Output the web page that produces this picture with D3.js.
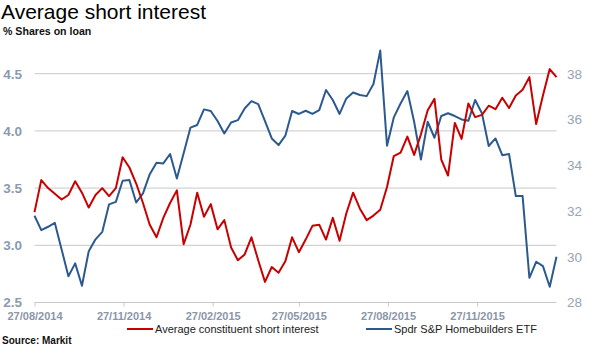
<!DOCTYPE html>
<html>
<head>
<meta charset="utf-8">
<script src="https://cdn.jsdelivr.net/npm/d3@7"></script>
<style>
  html, body { margin: 0; padding: 0; background: #fff; }
  svg { display: block; font-family: "Liberation Sans", Arial, sans-serif; }
</style>
</head>
<body>
<svg id="chart" width="590" height="355"></svg>
<script>
// ---- Data ----
const startDate = "2014-08-27";           // first weekly observation
const weekCount = 78;                       // weekly observations
const shortInterest = [3.29,3.57,3.50,3.45,3.40,3.44,3.56,3.46,3.33,3.44,
  3.50,3.43,3.50,3.77,3.68,3.54,3.37,3.18,3.07,3.24,
  3.37,3.48,3.01,3.18,3.46,3.25,3.36,3.14,3.22,2.98,
  2.87,2.92,3.07,2.87,2.68,2.81,2.76,2.86,3.07,2.94,
  3.05,3.17,3.18,3.05,3.24,3.04,3.28,3.46,3.32,3.22,
  3.26,3.31,3.51,3.78,3.81,3.95,3.79,3.97,4.18,4.28,
  3.75,3.61,4.07,3.93,4.24,4.12,4.14,4.22,4.19,4.29,
  4.20,4.31,4.36,4.47,4.06,4.31,4.54,4.47];
const etfPrice = [31.79,31.16,31.31,31.48,30.32,29.15,29.71,28.73,30.24,30.76,
  31.09,32.29,32.40,33.32,33.35,32.37,32.77,33.61,34.11,34.08,
  34.49,33.42,34.52,35.64,35.76,36.44,36.37,35.93,35.39,35.87,
  35.97,36.48,36.80,36.67,35.93,35.17,34.88,35.29,36.37,36.24,
  36.38,36.24,36.41,37.29,36.85,36.24,36.92,37.18,37.07,37.02,
  37.55,39.01,34.85,36.09,36.70,37.24,35.90,34.25,35.90,35.20,
  36.15,36.27,36.15,36.00,35.94,36.85,36.27,34.84,35.17,34.44,
  34.49,32.65,32.65,29.08,29.78,29.59,28.69,30.00];
const leftTicks = [2.5, 3.0, 3.5, 4.0, 4.5];
const rightTicks = [28, 30, 32, 34, 36, 38];
const xTickLabels = ["27/08/2014","27/11/2014","27/02/2015","27/05/2015","27/08/2015","27/11/2015"];
const seriesNames = ["Average constituent short interest", "Spdr S&P Homebuilders ETF"];
const title = "Average short interest";
const subtitle = "% Shares on loan";
const source = "Source: Markit";

// ---- Setup ----
const parseISO = d3.utcParse("%Y-%m-%d");
const parseDMY = d3.utcParse("%d/%m/%Y");
const t0 = parseISO(startDate);
const dates = d3.range(weekCount).map(i => d3.utcDay.offset(t0, 7 * i));
const tickDates = xTickLabels.map(parseDMY);

const svg = d3.select("#chart");
const plot = { left: 34.5, right: 556.5, top: 73.7, bottom: 302.5 };

const x = d3.scaleUtc().domain([dates[0], dates[dates.length - 1]]).range([plot.left, plot.right]);
const yL = d3.scaleLinear().domain([2.5, 4.5]).range([plot.bottom, plot.top]);
const yR = d3.scaleLinear().domain([28, 38]).range([plot.bottom, plot.top]);

const red = "#C80000", blue = "#2C5A8E";
const gridCol = "#C9C9C9";

// Title
svg.append("text").attr("x", 1).attr("y", 19)
  .attr("font-size", 21).attr("fill", "#000").text(title);
svg.append("text").attr("x", 3).attr("y", 35)
  .attr("font-size", 10.6).attr("font-weight", "bold").attr("fill", "#111").text(subtitle);

// Gridlines (left axis)
svg.append("g").selectAll("line").data(leftTicks.filter(d => d > 2.5)).join("line")
  .attr("x1", plot.left).attr("x2", plot.right)
  .attr("y1", d => yL(d)).attr("y2", d => yL(d))
  .attr("stroke", gridCol).attr("stroke-width", 1);

// X axis
const xAxis = d3.axisBottom(x).tickValues(tickDates).tickSize(4).tickFormat(d3.utcFormat("%d/%m/%Y"));
const gx = svg.append("g").attr("transform", `translate(0,${plot.bottom})`).call(xAxis);
gx.select(".domain").attr("stroke", gridCol).attr("d", `M${plot.left},0H${plot.right}`);
gx.selectAll(".tick line").attr("stroke", gridCol);
gx.selectAll(".tick text").attr("fill", "#8C96A8").attr("font-size", 11).attr("font-weight", "bold")
  .attr("font-family", "Liberation Sans, Arial, sans-serif").attr("y", 10).attr("dy", "0.71em");

// Left axis
const gl = svg.append("g").attr("transform", `translate(22,0)`)
  .call(d3.axisLeft(yL).tickValues(leftTicks).tickSize(0).tickPadding(0).tickFormat(d3.format(".1f")));
gl.select(".domain").remove();
gl.selectAll(".tick text").attr("fill", "#8A9AB2").attr("font-size", 13.5).attr("font-weight", "bold")
  .attr("font-family", "Liberation Sans, Arial, sans-serif");

// Right axis
const gr = svg.append("g").attr("transform", `translate(567,0)`)
  .call(d3.axisRight(yR).tickValues(rightTicks).tickSize(0).tickPadding(0).tickFormat(d3.format("d")));
gr.select(".domain").remove();
gr.selectAll(".tick text").attr("fill", "#98A3B5").attr("font-size", 13.5)
  .attr("font-family", "Liberation Sans, Arial, sans-serif");

// Lines
const lineL = d3.line().x((d, i) => x(dates[i])).y(d => yL(d));
const lineR = d3.line().x((d, i) => x(dates[i])).y(d => yR(d));
svg.append("path").datum(etfPrice).attr("d", lineR)
  .attr("fill", "none").attr("stroke", blue).attr("stroke-width", 2).attr("stroke-linejoin", "round");
svg.append("path").datum(shortInterest).attr("d", lineL)
  .attr("fill", "none").attr("stroke", red).attr("stroke-width", 2).attr("stroke-linejoin", "round");

// Source
svg.append("text").attr("x", 2).attr("y", 344)
  .attr("font-size", 10).attr("font-weight", "bold").attr("fill", "#111").text(source);

// Legend
const legend = [
  { name: seriesNames[0], color: red, x: 127 },
  { name: seriesNames[1], color: blue, x: 366 }
];
const lg = svg.append("g").selectAll("g").data(legend).join("g")
  .attr("transform", d => `translate(${d.x},329)`);
lg.append("line").attr("x1", 0).attr("x2", 26).attr("y1", 0).attr("y2", 0)
  .attr("stroke", d => d.color).attr("stroke-width", 2);
lg.append("text").attr("x", 28).attr("y", 0).attr("dy", "0.35em")
  .attr("font-size", 11).attr("fill", "#222").text(d => d.name);
</script>
</body>
</html>
